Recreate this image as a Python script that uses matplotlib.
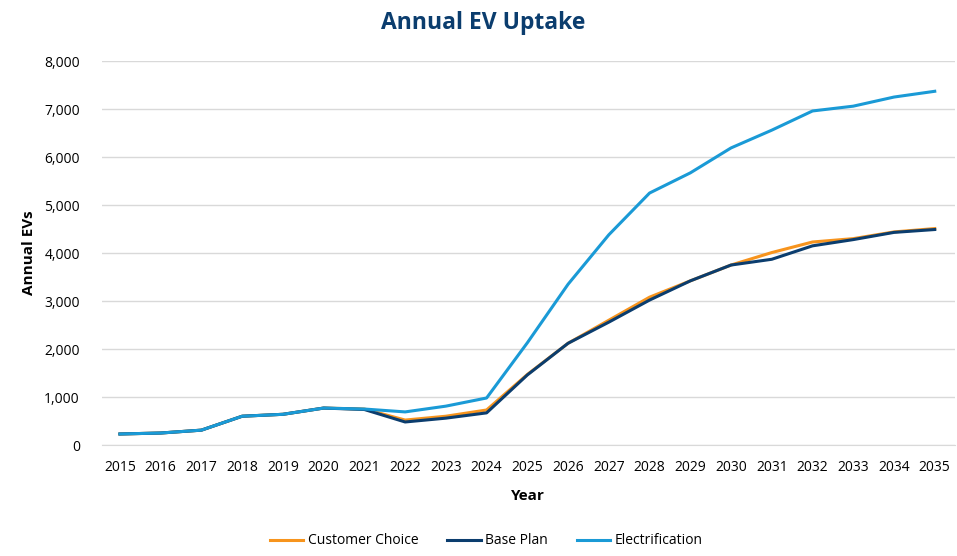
import numpy as np
import matplotlib
matplotlib.use('agg')
import matplotlib.pyplot as plt
from matplotlib.ticker import FuncFormatter

plt.rcParams['font.family'] = ['Open Sans', 'DejaVu Sans']

years = list(range(2015, 2036))
customer_choice = [230, 250, 310, 600, 640, 770, 750, 520, 600, 730, 1470, 2120,
                   2600, 3080, 3420, 3750, 4010, 4230, 4300, 4440, 4510]
base_plan = [230, 250, 310, 600, 640, 770, 740, 480, 560, 670, 1460, 2120,
             2560, 3020, 3420, 3750, 3870, 4150, 4280, 4430, 4490]
electrification = [230, 250, 310, 600, 640, 770, 750, 690, 810, 980, 2130, 3350,
                   4380, 5250, 5670, 6190, 6560, 6960, 7060, 7250, 7370]

fig = plt.figure(figsize=(9.57, 5.56), dpi=100)
ax = fig.add_axes([0.1066, 0.1996, 0.891, 0.6906])

ax.plot(years, customer_choice, color='#F7941D', lw=2.2, label='Customer Choice')
ax.plot(years, base_plan, color='#0B3D6E', lw=2.2, label='Base Plan')
ax.plot(years, electrification, color='#1A9AD6', lw=2.2, label='Electrification')

ax.set_xlim(2014.56, 2035.49)
ax.set_ylim(0, 8000)
ax.set_xticks(years)
ax.set_yticks(np.arange(0, 8001, 1000))
ax.yaxis.set_major_formatter(FuncFormatter(lambda v, p: '{:,.0f}'.format(v)))
ax.grid(axis='y', color='#D9D9D9', lw=1)
ax.set_axisbelow(True)
for s in ['top', 'right', 'left']:
    ax.spines[s].set_visible(False)
ax.spines['bottom'].set_color('#D9D9D9')
ax.tick_params(axis='both', length=0, labelsize=10, colors='#000000')
ax.tick_params(axis='x', pad=11)
ax.tick_params(axis='y', pad=16)

ax.set_xlabel('Year', fontsize=11, fontweight='bold', labelpad=10)
ax.set_ylabel('Annual EVs', fontsize=11, fontweight='bold', labelpad=6)
fig.text(0.505, 0.958, 'Annual EV Uptake', ha='center', va='center',
         fontsize=16.5, fontweight='bold', color='#0B3D6E')

fig.legend(loc='center', bbox_to_anchor=(0.508, 0.027), ncol=3, frameon=False,
           fontsize=10, handlelength=2.4, handletextpad=0.3, columnspacing=2.1)

plt.savefig('out.png', dpi=100)
